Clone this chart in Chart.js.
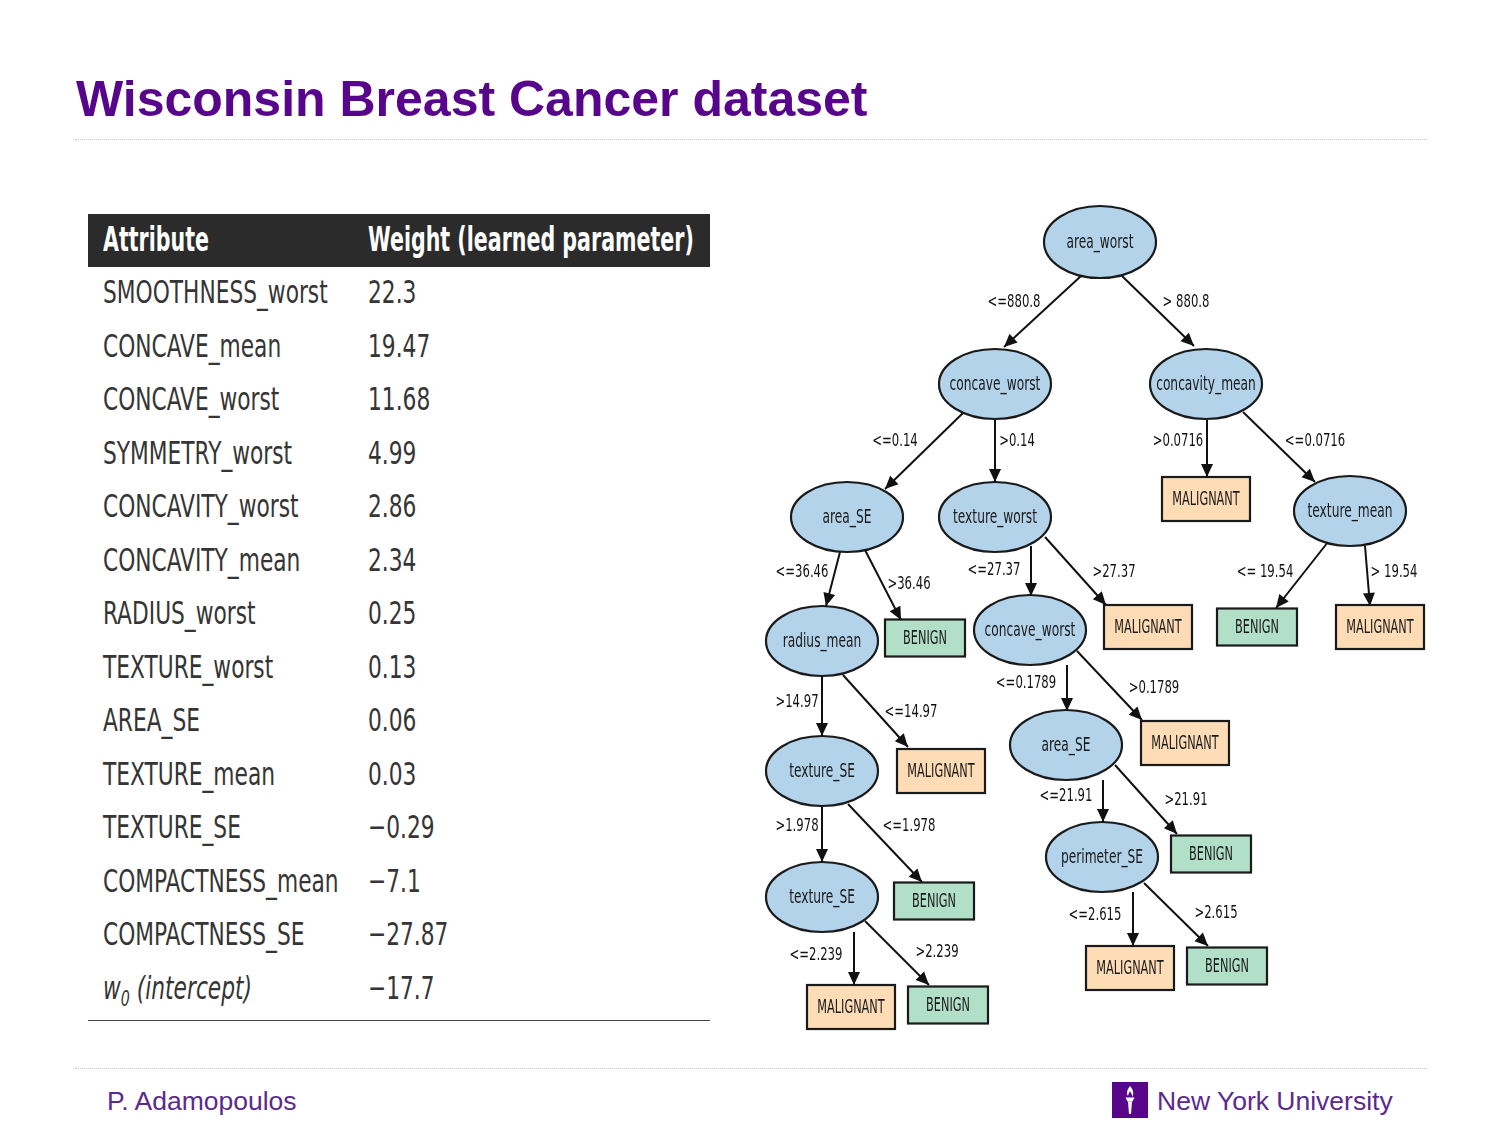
<!DOCTYPE html>
<html>
<head>
<meta charset="utf-8">
<script src="https://cdn.jsdelivr.net/npm/chart.js@4.4.1/dist/chart.umd.min.js"></script>
<style>
  html, body { margin: 0; padding: 0; background: #fff; }
  body { width: 1500px; height: 1125px; position: relative; overflow: hidden; font-family: "Liberation Sans", Arial, sans-serif; }
  .title { position: absolute; left: 76px; top: 70px; font-size: 50px; font-weight: bold; color: #57068c; white-space: nowrap; }
  .rule { position: absolute; left: 75px; width: 1352px; height: 0; border-top: 1px dotted #c8c8c8; }
  .narrow { font-family: "Liberation Sans Narrow", "DejaVu Sans Condensed", "Roboto Condensed", sans-serif; }
  #table { position: absolute; left: 88px; top: 214px; width: 622px; height: 806px; border-bottom: 1px solid #444; }
  #table .head { position: absolute; left: 0; top: 0; width: 622px; height: 53px; background: #2b2b2b; color: #fff; font-weight: bold; font-size: 33px; }
  #table .cell { position: absolute; white-space: nowrap; line-height: 1; }
  #table .sq { display: inline-block; transform-origin: left center; }
  #table .row { color: #353535; font-size: 32px; }
  #tree { position: absolute; left: 760px; top: 195px; }
  .foot { position: absolute; top: 1086px; font-size: 26.5px; color: #5b2a8f; white-space: nowrap; }
  .logo { position: absolute; left: 1112px; top: 1082px; width: 36px; height: 36px; background: #57068c; }
</style>
</head>
<body>
<div class="title">Wisconsin Breast Cancer dataset</div>
<div class="rule" style="top:139px"></div>
<div class="rule" style="top:1068px"></div>

<div id="table" class="narrow"></div>
<canvas id="tree" width="680" height="850"></canvas>

<div class="foot" style="left:107px">P. Adamopoulos</div>
<div class="logo">
  <svg width="36" height="36" viewBox="0 0 36 36">
    <path d="M18 4 C15 8 14 11 16 14 C16.5 12 17.3 10.5 18 9 C19 11.5 20.5 12.5 20 15 C22.5 11.5 21 7.5 18 4 Z" fill="#fff"/>
    <path d="M13.5 15.5 L22.5 15.5 L20.5 19.5 L15.5 19.5 Z" fill="#fff"/>
    <path d="M16 19.5 L20 19.5 L19 32 L17 32 Z" fill="#fff"/>
  </svg>
</div>
<div class="foot" style="left:1157px">New York University</div>

<script>
// ---- table data ----
const headers = ["Attribute", "Weight (learned parameter)"];
const attributes = ["SMOOTHNESS_worst", "CONCAVE_mean", "CONCAVE_worst", "SYMMETRY_worst",
  "CONCAVITY_worst", "CONCAVITY_mean", "RADIUS_worst", "TEXTURE_worst", "AREA_SE",
  "TEXTURE_mean", "TEXTURE_SE", "COMPACTNESS_mean", "COMPACTNESS_SE", "w0 (intercept)"];
const weights = ["22.3", "19.47", "11.68", "4.99", "2.86", "2.34", "0.25", "0.13", "0.06",
  "0.03", "\u22120.29", "\u22127.1", "\u221227.87", "\u221217.7"];

// ---- tree data (layout units match the slide frame) ----
const nodeLabels = ["area_worst", "concave_worst", "concavity_mean", "area_SE", "texture_worst",
  "MALIGNANT", "texture_mean", "radius_mean", "BENIGN", "concave_worst", "MALIGNANT", "BENIGN",
  "MALIGNANT", "texture_SE", "MALIGNANT", "area_SE", "MALIGNANT", "texture_SE", "BENIGN",
  "perimeter_SE", "BENIGN", "MALIGNANT", "BENIGN", "MALIGNANT", "BENIGN"];
const nodeX = [1100, 995, 1206, 847, 995, 1206, 1350, 822, 925, 1030, 1148, 1257, 1380,
  822, 941, 1066, 1185, 822, 934, 1102, 1211, 851, 948, 1130, 1227];
const nodeY = [242, 384, 384, 517, 517, 499, 511, 641, 638, 630, 627, 627, 627,
  771, 771, 745, 743, 897, 901, 857, 854, 1007, 1005, 968, 966];

const edgeLabels = ["<=880.8", "> 880.8", "<=0.14", ">0.14", ">0.0716", "<=0.0716",
  "<=36.46", ">36.46", "<=27.37", ">27.37", "<= 19.54", "> 19.54", ">14.97", "<=14.97",
  "<=0.1789", ">0.1789", ">1.978", "<=1.978", "<=21.91", ">21.91", "<=2.615", ">2.615",
  "<=2.239", ">2.239"];
const edgeFromX = [1081, 1122, 963, 995, 1207, 1243, 840, 865, 1031, 1045, 1328, 1365,
  822, 843, 1067, 1077, 822, 848, 1103, 1115, 1133, 1144, 854, 865];
const edgeFromY = [276, 276, 413, 420, 420, 412, 552, 550, 546, 537, 542, 546,
  676, 675, 665, 651, 806, 804, 780, 765, 892, 883, 932, 921];
const edgeToX = [1004, 1194, 885, 995, 1207, 1315, 826, 901, 1031, 1106, 1276, 1370,
  822, 908, 1067, 1142, 822, 922, 1103, 1177, 1133, 1208, 854, 929];
const edgeToY = [347, 346, 489, 482, 477, 482, 606, 620, 596, 605, 608, 606,
  736, 747, 711, 720, 862, 882, 822, 834, 946, 946, 985, 985];
const edgeLabelX = [1014, 1186, 895, 1017, 1178, 1315, 802, 909, 994, 1114, 1265, 1394,
  797, 911, 1026, 1154, 797, 909, 1066, 1186, 1095, 1216, 816, 937];
const edgeLabelY = [302, 302, 441, 441, 441, 441, 572, 584, 570, 572, 572, 572,
  702, 712, 683, 688, 826, 826, 796, 800, 915, 913, 955, 952];

// ---- build table ----
const table = document.getElementById("table");
const valueLeft = 280;
let html = `<div class="head"><div class="cell" style="left:15px;top:9px"><span class="sq" id="h0">${headers[0]}</span></div>` +
  `<div class="cell" style="left:${valueLeft}px;top:9px"><span class="sq" id="h1">${headers[1]}</span></div></div>`;
attributes.forEach((a, i) => {
  const top = 78 + i * 53.5 - 16;
  let name = a;
  if (a.startsWith("w0")) {
    name = `<i>w<sub style="font-size:21px">0</sub> (intercept)</i>`;
  }
  html += `<div class="cell row" style="left:15px;top:${top}px"><span class="sq rs" id="r${i}">${name}</span></div>`;
  html += `<div class="cell row" style="left:${valueLeft}px;top:${top}px"><span class="sq rs">${weights[i]}</span></div>`;
});
table.innerHTML = html;

// squeeze the fallback font to the condensed look of the slide
const fit = (el, target) => target / el.offsetWidth;
const h0 = document.getElementById("h0"), h1 = document.getElementById("h1");
h0.style.transform = `scaleX(${fit(h0, 106)})`;
h1.style.transform = `scaleX(${fit(h1, 326)})`;
const rowScale = fit(document.getElementById("r0"), 225);
document.querySelectorAll(".rs").forEach(el => { el.style.transform = `scaleX(${rowScale})`; });

// ---- tree chart ----
const FONT = '"Liberation Sans Narrow", "DejaVu Sans Condensed", sans-serif';
const fills = { split: "#b3d3ea", MALIGNANT: "#fddcb6", BENIGN: "#b2dfc7" };

function narrowText(ctx, text, x, y, squeeze) {
  ctx.save();
  ctx.translate(x, y);
  ctx.scale(squeeze, 1);
  ctx.fillText(text, 0, 0);
  ctx.restore();
}

const edgeDatasets = edgeLabels.map((lab, i) => ({
  type: "scatter",
  label: lab,
  data: [{ x: edgeFromX[i], y: edgeFromY[i] }, { x: edgeToX[i], y: edgeToY[i] }],
  showLine: true,
  borderColor: "#111",
  borderWidth: 2,
  pointRadius: 0,
  edge: true
}));

const nodeDataset = {
  type: "scatter",
  label: "nodes",
  data: nodeLabels.map((n, i) => ({ x: nodeX[i], y: nodeY[i] })),
  pointRadius: 0,
  nodes: true
};

const treePlugin = {
  id: "tree",
  beforeDatasetsDraw(chart) {
    const ctx = chart.ctx;
    const meta = chart.getDatasetMeta(chart.data.datasets.length - 1);
    ctx.save();
    meta.data.forEach((pt, i) => {
      const lab = nodeLabels[i];
      const leaf = lab === "MALIGNANT" || lab === "BENIGN";
      ctx.lineWidth = 2.2;
      ctx.strokeStyle = "#1a1a1a";
      if (leaf) {
        const w = lab === "MALIGNANT" ? 88 : 80;
        const h = lab === "MALIGNANT" ? 44 : 37;
        ctx.fillStyle = fills[lab];
        ctx.fillRect(pt.x - w / 2, pt.y - h / 2, w, h);
        ctx.strokeRect(pt.x - w / 2, pt.y - h / 2, w, h);
      } else {
        ctx.beginPath();
        ctx.ellipse(pt.x, pt.y, 56, i === 0 ? 36 : 35, 0, 0, Math.PI * 2);
        ctx.fillStyle = fills.split;
        ctx.fill();
        ctx.stroke();
      }
      ctx.fillStyle = "#1a1a1a";
      ctx.font = (leaf ? "19px " : "20px ") + FONT;
      ctx.textAlign = "center";
      ctx.textBaseline = "middle";
      narrowText(ctx, lab, pt.x, pt.y + 1, leaf ? 0.66 : 0.68);
    });
    ctx.restore();
  },
  afterDatasetsDraw(chart) {
    const ctx = chart.ctx;
    const xs = chart.scales.x, ys = chart.scales.y;
    ctx.save();
    chart.data.datasets.forEach((ds, di) => {
      if (!ds.edge) return;
      const pts = chart.getDatasetMeta(di).data;
      const a = pts[0], b = pts[1];
      const ang = Math.atan2(b.y - a.y, b.x - a.x);
      const L = 13, W = 6;
      ctx.beginPath();
      ctx.moveTo(b.x, b.y);
      ctx.lineTo(b.x - L * Math.cos(ang) + W * Math.sin(ang), b.y - L * Math.sin(ang) - W * Math.cos(ang));
      ctx.lineTo(b.x - L * Math.cos(ang) - W * Math.sin(ang), b.y - L * Math.sin(ang) + W * Math.cos(ang));
      ctx.closePath();
      ctx.fillStyle = "#111";
      ctx.fill();
      ctx.font = "18px " + FONT;
      ctx.textAlign = "center";
      ctx.textBaseline = "middle";
      narrowText(ctx, ds.label, xs.getPixelForValue(edgeLabelX[di]), ys.getPixelForValue(edgeLabelY[di]), 0.72);
    });
    ctx.restore();
  }
};

new Chart(document.getElementById("tree"), {
  type: "scatter",
  data: { datasets: [...edgeDatasets, nodeDataset] },
  options: {
    responsive: false,
    animation: false,
    layout: { padding: 0 },
    plugins: { legend: { display: false }, tooltip: { enabled: false } },
    scales: {
      x: { type: "linear", min: 760, max: 1440, display: false },
      y: { type: "linear", min: 195, max: 1045, reverse: true, display: false }
    }
  },
  plugins: [treePlugin]
});
</script>
</body>
</html>
